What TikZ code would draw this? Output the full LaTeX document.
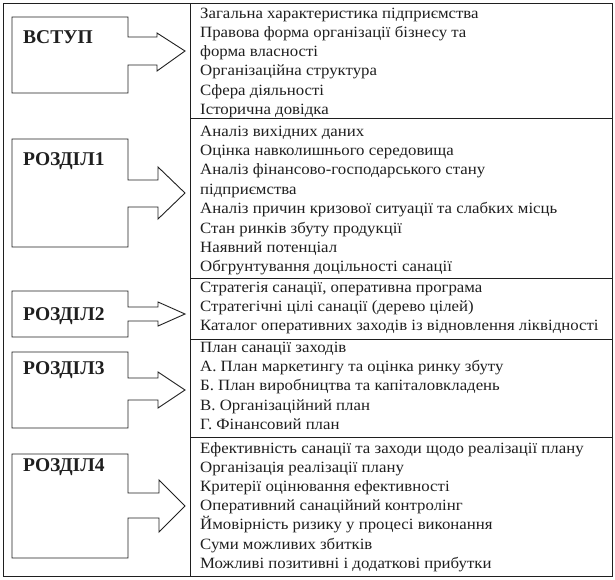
\documentclass[tikz,border=0pt]{standalone}
\usepackage{fontspec}
\setmainfont{Liberation Serif}
\newfontfamily\itemfont[FakeStretch=1.07]{Liberation Serif}
\definecolor{ink}{gray}{0.12}
\tikzset{
  frame/.style={draw=ink, line width=0.9pt},
  arrowshape/.style={draw=ink, line width=0.9pt, line join=miter},
  label/.style={anchor=west, inner sep=0pt, text=ink, font=\bfseries\fontsize{19.5}{22}\selectfont},
  item/.style={anchor=base west, inner sep=0pt, text=ink, font=\itemfont\fontsize{15.7}{18}\selectfont},
}
\begin{document}
\begin{tikzpicture}[x=1pt,y=-1pt]
\useasboundingbox (0,0) rectangle (615,579);
% outer frame and right column
\draw[frame] (3,3) rectangle (612,576);
\draw[frame] (190,3) -- (190,576);
\draw[frame] (190,118.5) -- (612,118.5);
\draw[frame] (190,278.5) -- (612,278.5);
\draw[frame] (190,339) -- (612,339);
\draw[frame] (190,437) -- (612,437);
% box-arrows
\draw[arrowshape] (12,17) -- (128,17) -- (128,37) -- (157,37) -- (157,33) -- (185,51) -- (157,71) -- (157,65) -- (128,65) -- (128,93) -- (12,93) -- cycle;
\draw[arrowshape] (12,139) -- (128,139) -- (128,180) -- (158,180) -- (158,167) -- (185,193) -- (158,219) -- (158,207) -- (128,207) -- (128,247) -- (12,247) -- cycle;
\draw[arrowshape] (12,291) -- (128,291) -- (128,307) -- (158,307) -- (158,302) -- (185,314) -- (158,326) -- (158,321) -- (128,321) -- (128,337) -- (12,337) -- cycle;
\draw[arrowshape] (12,352) -- (128,352) -- (128,378) -- (158,378) -- (158,372) -- (185,390) -- (158,408) -- (158,400) -- (128,400) -- (128,428) -- (12,428) -- cycle;
\draw[arrowshape] (12,454) -- (128,454) -- (128,493) -- (159,493) -- (159,480) -- (185,506) -- (159,532) -- (159,518) -- (128,518) -- (128,558) -- (12,558) -- cycle;
% labels
\node[label] (vstup) at (23,37) {ВСТУП};
\node[label] (r1) at (23,161) {РОЗДІЛ1};
\node[label] (r2) at (23,316) {РОЗДІЛ2};
\node[label] (r3) at (23,370) {РОЗДІЛ3};
\node[label] (r4) at (23,467) {РОЗДІЛ4};
% items
\foreach \t [count=\i] in {Загальна характеристика підприємства, Правова форма організації бізнесу та, форма власності, Організаційна структура, Сфера діяльності, Історична довідка}
  \node[item] (a\i) at (200,{18+(\i-1)*19.3}) {\t};
\foreach \t [count=\i] in {Аналіз вихідних даних, Оцінка навколишнього середовища, Аналіз фінансово-господарського стану, підприємства, Аналіз причин кризової ситуації та слабких місць, Стан ринків збуту продукції, Наявний потенціал, Обгрунтування доцільності санації}
  \node[item] (b\i) at (200,{136+(\i-1)*19.4}) {\t};
\foreach \t [count=\i] in {{Стратегія санації, оперативна програма}, Стратегічні цілі санації (дерево цілей), Каталог оперативних заходів із відновлення ліквідності}
  \node[item] (c\i) at (200,{292+(\i-1)*19.2}) {\t};
\foreach \t [count=\i] in {План санації заходів, А. План маркетингу та оцінка ринку збуту, Б. План виробництва та капіталовкладень, В. Організаційний план, Г. Фінансовий план}
  \node[item] (d\i) at (200,{352+(\i-1)*19.4}) {\t};
\foreach \t [count=\i] in {Ефективність санації та заходи щодо реалізації плану, Організація реалізації плану, Критерії оцінювання ефективності, Оперативний санаційний контролінг, Ймовірність ризику у процесі виконання, Суми можливих збитків, Можливі позитивні і додаткові прибутки}
  \node[item] (e\i) at (200,{453+(\i-1)*19.2}) {\t};
\end{tikzpicture}
\end{document}
